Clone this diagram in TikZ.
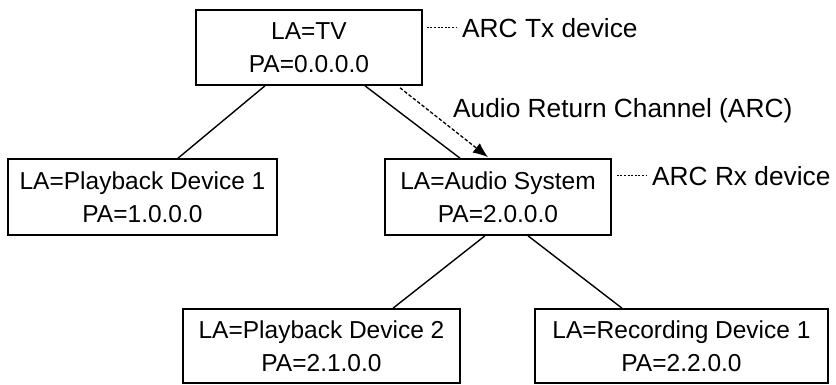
\documentclass[tikz,border=0pt]{standalone}
\usepackage{fontspec}
\setmainfont{Liberation Sans}
\usetikzlibrary{arrows.meta}

\begin{document}
\begin{tikzpicture}[
    x=1pt, y=1pt,
    every node/.style={text=black},
    dev/.style={draw, line width=1.6pt, align=center, inner sep=0pt,
        font=\fontsize{24.5}{33}\selectfont},
    lbl/.style={inner sep=0pt, anchor=base west, font=\fontsize{26.3}{30}\selectfont},
    link/.style={line width=1.4pt},
    tag/.style={line width=1.4pt, dash pattern=on 2pt off 1.6pt}
]
    \useasboundingbox (0,0) rectangle (836,384);

    % ==========================
    % DEVICES
    % ==========================
    \node[dev, minimum width=226pt, minimum height=75pt] (tv)    at (309,336.5) {LA=TV\\PA=0.0.0.0};
    \node[dev, minimum width=269pt, minimum height=76pt] (pb1)   at (142.5,187) {LA=Playback Device 1\\PA=1.0.0.0};
    \node[dev, minimum width=226pt, minimum height=76pt] (audio) at (498,187)   {LA=Audio System\\PA=2.0.0.0};
    \node[dev, minimum width=277pt, minimum height=74pt] (pb2)   at (321.5,38)  {LA=Playback Device 2\\PA=2.1.0.0};
    \node[dev, minimum width=293pt, minimum height=74pt] (rec)   at (681.5,38)  {LA=Recording Device 1\\PA=2.2.0.0};

    % ==========================
    % TREE LINKS
    % ==========================
    % parent / offset on parent / child / offset on child
    \foreach \a/\sa/\b/\sb in {
        tv/-44/pb1/35.5,
        tv/56/audio/-38,
        audio/-13/pb2/71.5,
        audio/30/rec/-59.5}
    {
        \draw[link] ([xshift=\sa pt]\a.south) -- ([xshift=\sb pt]\b.north);
    }

    % ARC arrow
    \draw[line width=1.3pt, dash pattern=on 3.5pt off 2pt, -{Latex[length=15pt, width=12pt]}]
        ([xshift=91pt, yshift=-2pt]tv.south) -- ([xshift=-10pt, yshift=1pt]audio.north);

    % ==========================
    % LABELS
    % ==========================
    \node[lbl] (txlbl)  at (462,347) {ARC Tx device};
    \node[lbl] (rxlbl)  at (652,199) {ARC Rx device};
    \node[lbl] (arclbl) at (453,267) {Audio Return Channel (ARC)};

    \draw[tag] ([xshift=4pt]tv.east |- txlbl.west) -- ([xshift=-5pt]txlbl.west);
    \draw[tag] ([xshift=5pt]audio.east |- rxlbl.west) -- ([xshift=-5pt]rxlbl.west);

\end{tikzpicture}
\end{document}
